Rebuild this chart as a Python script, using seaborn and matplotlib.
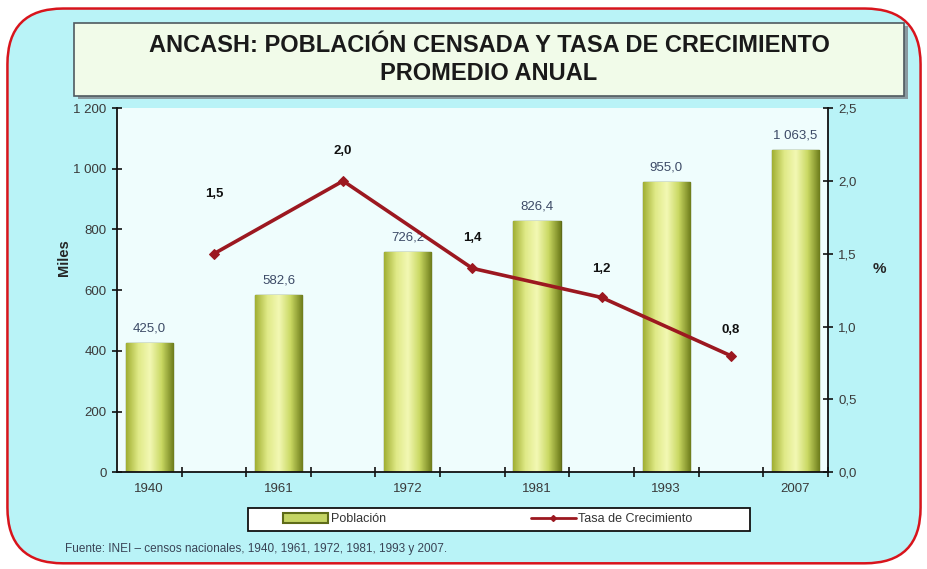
import matplotlib
matplotlib.use("Agg")
import matplotlib.pyplot as plt
from matplotlib.patches import FancyBboxPatch, Rectangle, Patch
from matplotlib.lines import Line2D
from matplotlib.colors import LinearSegmentedColormap
import seaborn as sns
import numpy as np
import pandas as pd

# === Data ===
years = ["1940", "1961", "1972", "1981", "1993", "2007"]
poblacion = [425.0, 582.6, 726.2, 826.4, 955.0, 1063.5]
tasa = [1.5, 2.0, 1.4, 1.2, 0.8]
y_left_ticks = [0, 200, 400, 600, 800, 1000, 1200]
y_right_ticks = [0.0, 0.5, 1.0, 1.5, 2.0, 2.5]

title = "ANCASH: POBLACIÓN CENSADA Y TASA DE CRECIMIENTO\nPROMEDIO ANUAL"
fuente = "Fuente: INEI – censos nacionales, 1940, 1961, 1972, 1981, 1993 y 2007."

sns.set_style("white")
plt.rcParams["font.family"] = ["Liberation Sans", "DejaVu Sans"]

def fmt(v, d=1):
    s = f"{v:,.{d}f}"
    return s.replace(",", " ").replace(".", ",")

fig = plt.figure(figsize=(9.28, 5.69), dpi=100)
fig.patch.set_facecolor("white")

# outer rounded panel
panel = FancyBboxPatch((0.008, 0.01), 0.984, 0.975,
                       boxstyle="round,pad=0,rounding_size=0.06",
                       transform=fig.transFigure, facecolor="#b9f3f7",
                       edgecolor="#d8141c", linewidth=1.8, zorder=-3,
                       mutation_aspect=928 / 569)
fig.patches.append(panel)

# title box
tb_shadow = Rectangle((0.084, 0.826), 0.894, 0.128, transform=fig.transFigure,
                      facecolor="#8a9aa0", edgecolor="none", zorder=-2)
tb = Rectangle((0.080, 0.832), 0.894, 0.128, transform=fig.transFigure,
               facecolor="#f1fbe9", edgecolor="#505a60", linewidth=1.2, zorder=-1)
fig.patches.extend([tb_shadow, tb])
fig.text(0.527, 0.895, title, ha="center", va="center", fontsize=17,
         fontweight="bold", color="#1a1a1a", linespacing=1.25)

ax = fig.add_axes([0.126, 0.170, 0.766, 0.640])
ax.set_facecolor("#effdfd")

df = pd.DataFrame({"year": years, "poblacion": poblacion})
sns.barplot(data=df, x="year", y="poblacion", ax=ax, width=0.365,
            color="#c4d463", edgecolor="#5e6b18", linewidth=1.0, zorder=2)

# gradient fill on bars
cmap = LinearSegmentedColormap.from_list(
    "olive", ["#a2b034", "#dfe986", "#f3f8b4", "#c9d862", "#6f7e1c"])
grad = np.linspace(0, 1, 64).reshape(1, -1)
for p in ax.patches:
    x0, y0 = p.get_x(), p.get_y()
    im = ax.imshow(grad, cmap=cmap, aspect="auto", zorder=2.5,
                   extent=[x0, x0 + p.get_width(), y0, y0 + p.get_height()])
    im.set_clip_path(p)
    ax.text(x0 + p.get_width() / 2, p.get_height() + 28, fmt(p.get_height()),
            ha="center", va="bottom", fontsize=9.5, color="#3c4a66")

ax.set_xlim(-0.25, len(years) - 0.75)
ax.set_ylim(0, 1200)
ax.set_yticks(y_left_ticks)
ax.set_yticklabels([fmt(v, 0) for v in y_left_ticks])
ax.set_xticks(np.arange(len(years) * 2 - 1) * 0.5 + 0.25, minor=True)
ax.tick_params(axis="x", which="minor", bottom=True, direction="inout",
               length=7, width=1.2, color="#111111")
ax.tick_params(axis="x", which="major", length=0, pad=8, labelsize=9.5)
ax.tick_params(axis="y", left=True, direction="inout", length=7, width=1.2,
               labelsize=9.5, color="#111111", pad=4)
ax.tick_params(axis="both", labelcolor="#3a3a3a")
ax.set_xlabel("")
ax.set_ylabel("Miles", fontsize=10.5, fontweight="bold", labelpad=-6)
ax.yaxis.set_label_coords(-0.065, 0.59)
for s in ["left", "bottom"]:
    ax.spines[s].set_color("#111111")
    ax.spines[s].set_linewidth(1.3)
ax.spines["top"].set_visible(False)
ax.spines["right"].set_visible(False)

# line on secondary axis, placed between census years
ax2 = ax.twinx()
xs = np.arange(len(tasa)) + 0.5
line_df = pd.DataFrame({"x": xs, "tasa": tasa})
sns.lineplot(data=line_df, x="x", y="tasa", ax=ax2, color="#9c1820",
             linewidth=2.6, marker="D", markersize=5, markeredgecolor="#9c1820",
             zorder=4)
label_dy = [60, 30, 30, 28, 26]
for x, v, dy in zip(xs, tasa, label_dy):
    ax2.annotate(fmt(v), (x, v), xytext=(0, dy * 0.72), textcoords="offset points",
                 ha="center", va="center", fontsize=9.5, fontweight="bold",
                 color="#111111")
ax2.set_ylim(0, 2.5)
ax2.set_yticks(y_right_ticks)
ax2.set_yticklabels([fmt(v) for v in y_right_ticks])
ax2.tick_params(axis="y", right=True, direction="inout", length=7, width=1.2,
                labelsize=9.5, color="#111111", labelcolor="#3a3a3a", pad=4)
ax2.set_ylabel("")
ax2.set_xlabel("")
for s in ["top", "left", "bottom"]:
    ax2.spines[s].set_visible(False)
ax2.spines["right"].set_color("#111111")
ax2.spines["right"].set_linewidth(1.3)
ax2.set_xlim(ax.get_xlim())
fig.text(0.948, 0.528, "%", ha="center", va="center", fontsize=11, fontweight="bold")

# legend: box drawn by hand, entries placed as two single-entry legends
leg_box = Rectangle((0.267, 0.067), 0.541, 0.041, transform=fig.transFigure,
                    facecolor="white", edgecolor="#111111", linewidth=1.3, zorder=-1)
fig.patches.append(leg_box)
h_bar = Patch(facecolor="#c4d463", edgecolor="#5e6b18", linewidth=1.5, label="Población")
h_line = Line2D([0], [0], color="#9c1820", lw=2, marker="D", markersize=3,
                label="Tasa de Crecimiento")
for h, xpos in [(h_bar, 0.305), (h_line, 0.572)]:
    lg = fig.legend(handles=[h], loc="center left", bbox_to_anchor=(xpos, 0.0875),
                    frameon=False, fontsize=9, handlelength=3.6, handleheight=0.9,
                    handletextpad=0.2, borderpad=0, borderaxespad=0,
                    labelcolor="#333333")
if ax2.get_legend() is not None:
    ax2.get_legend().remove()

fig.text(0.070, 0.035, fuente, ha="left", va="center", fontsize=8.5, color="#3a4456")

fig.savefig("out.png", dpi=100, facecolor=fig.get_facecolor())
